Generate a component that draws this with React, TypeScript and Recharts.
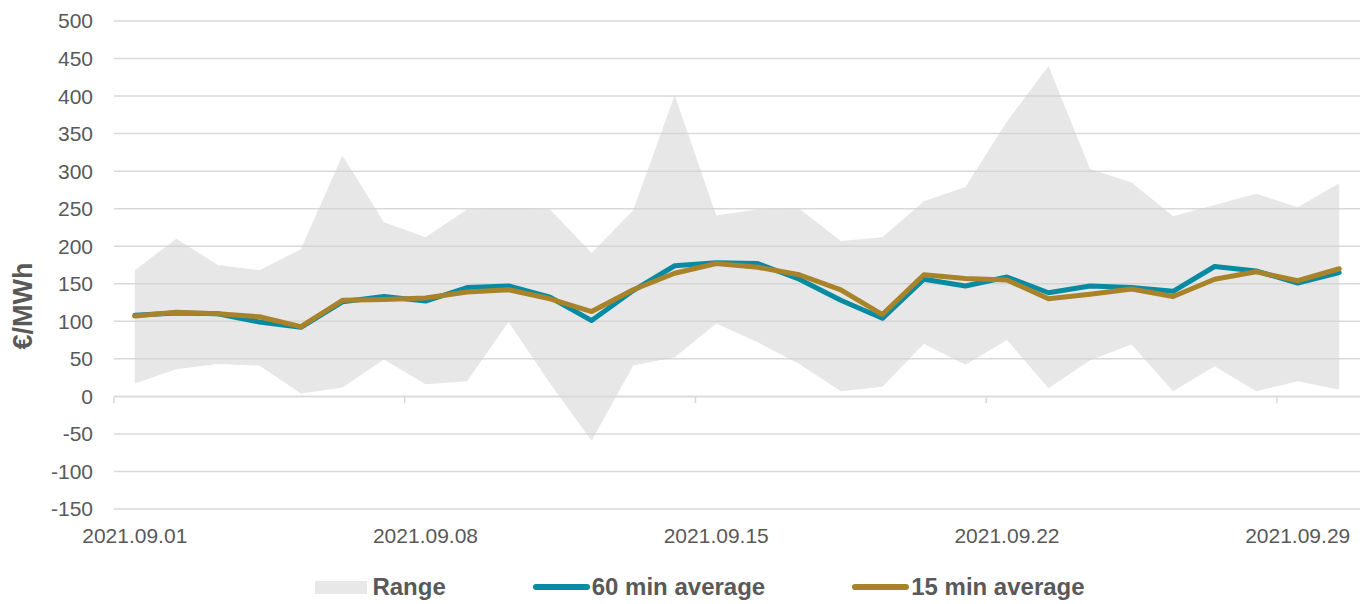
import React from "react";
import {
  ComposedChart,
  Area,
  Line,
  XAxis,
  YAxis,
  CartesianGrid,
  ReferenceLine,
  Legend,
} from "recharts";

const dates = [
  "2021.09.01", "2021.09.02", "2021.09.03", "2021.09.04", "2021.09.05",
  "2021.09.06", "2021.09.07", "2021.09.08", "2021.09.09", "2021.09.10",
  "2021.09.11", "2021.09.12", "2021.09.13", "2021.09.14", "2021.09.15",
  "2021.09.16", "2021.09.17", "2021.09.18", "2021.09.19", "2021.09.20",
  "2021.09.21", "2021.09.22", "2021.09.23", "2021.09.24", "2021.09.25",
  "2021.09.26", "2021.09.27", "2021.09.28", "2021.09.29", "2021.09.30",
];

// daily min / max (€/MWh)
const rangeLow = [17, 36, 43, 41, 4, 12, 49, 16, 20, 99, 17, -59, 41, 52, 97, 72, 43, 7, 13, 70, 42, 75, 11, 48, 69, 7, 40, 7, 20, 9];
const rangeHigh = [168, 210, 175, 168, 196, 321, 232, 212, 249, 251, 249, 191, 248, 401, 241, 249, 250, 207, 212, 260, 279, 366, 440, 303, 285, 240, 255, 270, 252, 284];

const avg60 = [108, 111, 110, 99, 92, 126, 133, 127, 145, 147, 132, 101, 141, 174, 178, 177, 156, 128, 104, 156, 147, 159, 138, 147, 145, 140, 173, 167, 151, 165];
const avg15 = [107, 112, 110, 106, 93, 128, 129, 131, 139, 142, 130, 113, 142, 164, 177, 172, 162, 142, 109, 162, 157, 155, 130, 136, 143, 133, 156, 166, 154, 170];

const yTicks = [-150, -100, -50, 0, 50, 100, 150, 200, 250, 300, 350, 400, 450, 500];
const xLabelDays = [1, 8, 15, 22, 29];
const xTickMarks = [0.5, 7.5, 14.5, 21.5, 28.5];
const legendOrder = ["Range", "60 min average", "15 min average"];

const data = dates.map((d, i) => ({
  day: i + 1,
  date: d,
  range: [rangeLow[i], rangeHigh[i]],
  avg60: avg60[i],
  avg15: avg15[i],
}));

const FONT = '"Liberation Sans", Arial, sans-serif';
const TEXT = "#595959";
const GRID = "#d9d9d9";
const RANGE_FILL = "#e8e8e8";
const TEAL = "#078ba2";
const GOLD = "#a8832a";

const renderLegend = (props: any) => {
  const items = [...(props.payload || [])].sort(
    (a: any, b: any) => legendOrder.indexOf(a.value) - legendOrder.indexOf(b.value)
  );
  return (
    <div
      style={{
        display: "flex",
        justifyContent: "center",
        alignItems: "center",
        height: 40,
        paddingTop: 6,
        paddingLeft: 40,
        boxSizing: "border-box",
        gap: 87,
        fontFamily: FONT,
        fontWeight: "bold",
        fontSize: 24,
        color: TEXT,
      }}
    >
      {items.map((entry: any) => (
        <div key={entry.value} style={{ display: "flex", alignItems: "center" }}>
          {entry.value === "Range" ? (
            <span style={{ display: "inline-block", width: 52, height: 13, background: RANGE_FILL, marginRight: 5 }} />
          ) : (
            <span
              style={{
                display: "inline-block",
                width: 57,
                height: 6,
                borderRadius: 3,
                background: entry.value === "60 min average" ? TEAL : GOLD,
                marginRight: 2,
              }}
            />
          )}
          <span>{entry.value}</span>
        </div>
      ))}
    </div>
  );
};

const App: React.FC = () => (
  <div style={{ position: "absolute", left: 0, top: 0 }}>
    <ComposedChart
      width={1371}
      height={604}
      data={data}
      margin={{ top: 21, right: 11, bottom: 0, left: 0 }}
    >
      <CartesianGrid vertical={false} stroke={GRID} strokeWidth={1.5} />
      <XAxis
        dataKey="day"
        type="number"
        domain={[0.5, 30.5]}
        ticks={xLabelDays}
        tickFormatter={(v: number) => dates[v - 1]}
        axisLine={false}
        tickLine={false}
        tickSize={6}
        tickMargin={13}
        height={55}
        tick={{ fill: TEXT, fontSize: 21, fontFamily: FONT }}
      />
      <YAxis
        domain={[-150, 500]}
        ticks={yTicks}
        interval={0}
        axisLine={false}
        tickLine={false}
        tickSize={0}
        tickMargin={21}
        width={114}
        tick={{ fill: TEXT, fontSize: 21, fontFamily: FONT }}
        label={{
          content: (p: any) => {
            const vb = p.viewBox || {};
            const cx = (vb.x || 0) + 23;
            const cy = (vb.y || 0) + (vb.height || 0) / 2 + 41;
            return (
              <text
                x={cx}
                y={cy}
                transform={`rotate(-90 ${cx} ${cy})`}
                textAnchor="middle"
                dominantBaseline="central"
                fill={TEXT}
                fontFamily={FONT}
                fontWeight="bold"
                fontSize={27}
              >
                €/MWh
              </text>
            );
          },
        }}
      />
      <Area
        dataKey="range"
        name="Range"
        type="linear"
        fill="#cfcfcf"
        fillOpacity={0.5}
        stroke="none"
        legendType="rect"
        isAnimationActive={false}
        activeDot={false}
      />
      <ReferenceLine y={0} stroke={GRID} strokeWidth={1.5} />
      {xTickMarks.map((x) => (
        <ReferenceLine
          key={x}
          segment={[{ x, y: 0 }, { x, y: -9 }]}
          stroke={GRID}
          strokeWidth={1.5}
        />
      ))}
      <Line
        dataKey="avg60"
        name="60 min average"
        type="linear"
        stroke={TEAL}
        strokeWidth={5}
        strokeLinecap="round"
        strokeLinejoin="round"
        dot={false}
        activeDot={false}
        isAnimationActive={false}
      />
      <Line
        dataKey="avg15"
        name="15 min average"
        type="linear"
        stroke={GOLD}
        strokeWidth={5}
        strokeLinecap="round"
        strokeLinejoin="round"
        dot={false}
        activeDot={false}
        isAnimationActive={false}
      />
      <Legend verticalAlign="bottom" content={renderLegend} />
    </ComposedChart>
  </div>
);

export default App;
